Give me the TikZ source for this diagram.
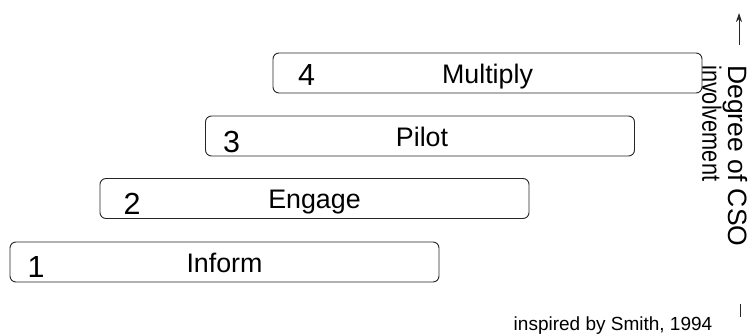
\documentclass[tikz,border=0pt]{standalone}
\usepackage{fontspec}
\usepackage{graphicx}
\setmainfont{Liberation Sans}
\usetikzlibrary{arrows.meta}
\begin{document}
\begin{tikzpicture}[x=1pt,y=-1pt,
  stage/.style={draw=black!85, line width=0.9pt, rounded corners=6pt, minimum width=429pt, minimum height=40pt, inner sep=0pt},
  lbl/.style={font=\fontsize{26.8}{30}\selectfont, anchor=base, inner sep=0pt},
  num/.style={font=\fontsize{30.5}{34}\selectfont, anchor=base, inner sep=0pt},
  axis/.style={draw=black!85, line width=0.9pt},
  side/.style={font=\fontsize{26.5}{24}\selectfont, align=left, inner sep=0pt, rotate=-90, anchor=north west},
  note/.style={font=\fontsize{19}{22}\selectfont, anchor=base, inner sep=0pt}]
\useasboundingbox (0,0) rectangle (750,335);
% stage boxes
\node[stage] (b1) at (224.5,262) {};
\node[stage] (b2) at (314.5,198.5) {};
\node[stage] (b3) at (420,136) {};
\node[stage] (b4) at (487.5,73) {};
% labels
\node[lbl] (l1) at ([yshift=-10pt]b1.center) {Inform};
\node[lbl] (l2) at ([yshift=-10pt]b2.center) {Engage};
\node[lbl] (l3) at ([xshift=2pt,yshift=-10pt]b3.center) {Pilot};
\node[lbl] (l4) at ([yshift=-10pt]b4.center) {Multiply};
% numbers
\node[num] (n1) at (36,277.5) {1};
\node[num] (n2) at (132,214.5) {2};
\node[num] (n3) at (231.5,152.5) {3};
\node[num] (n4) at (306.5,85.5) {4};
% axis
\coordinate (atop) at (739,13);
\coordinate (abot) at (739,45);
\draw[axis,-{Stealth[length=9pt,width=6pt]}] (abot) -- (atop);
\coordinate (btop) at (740,304);
\coordinate (bbot) at (740,317);
\draw[axis] (btop) -- (bbot);
\node[side] (deg) at (747.5,65) {Degree of CSO\\\scalebox{0.82}[1]{involvement}};
% source
\node[note] (src) at (613,330) {inspired by Smith, 1994};
\end{tikzpicture}
\end{document}
